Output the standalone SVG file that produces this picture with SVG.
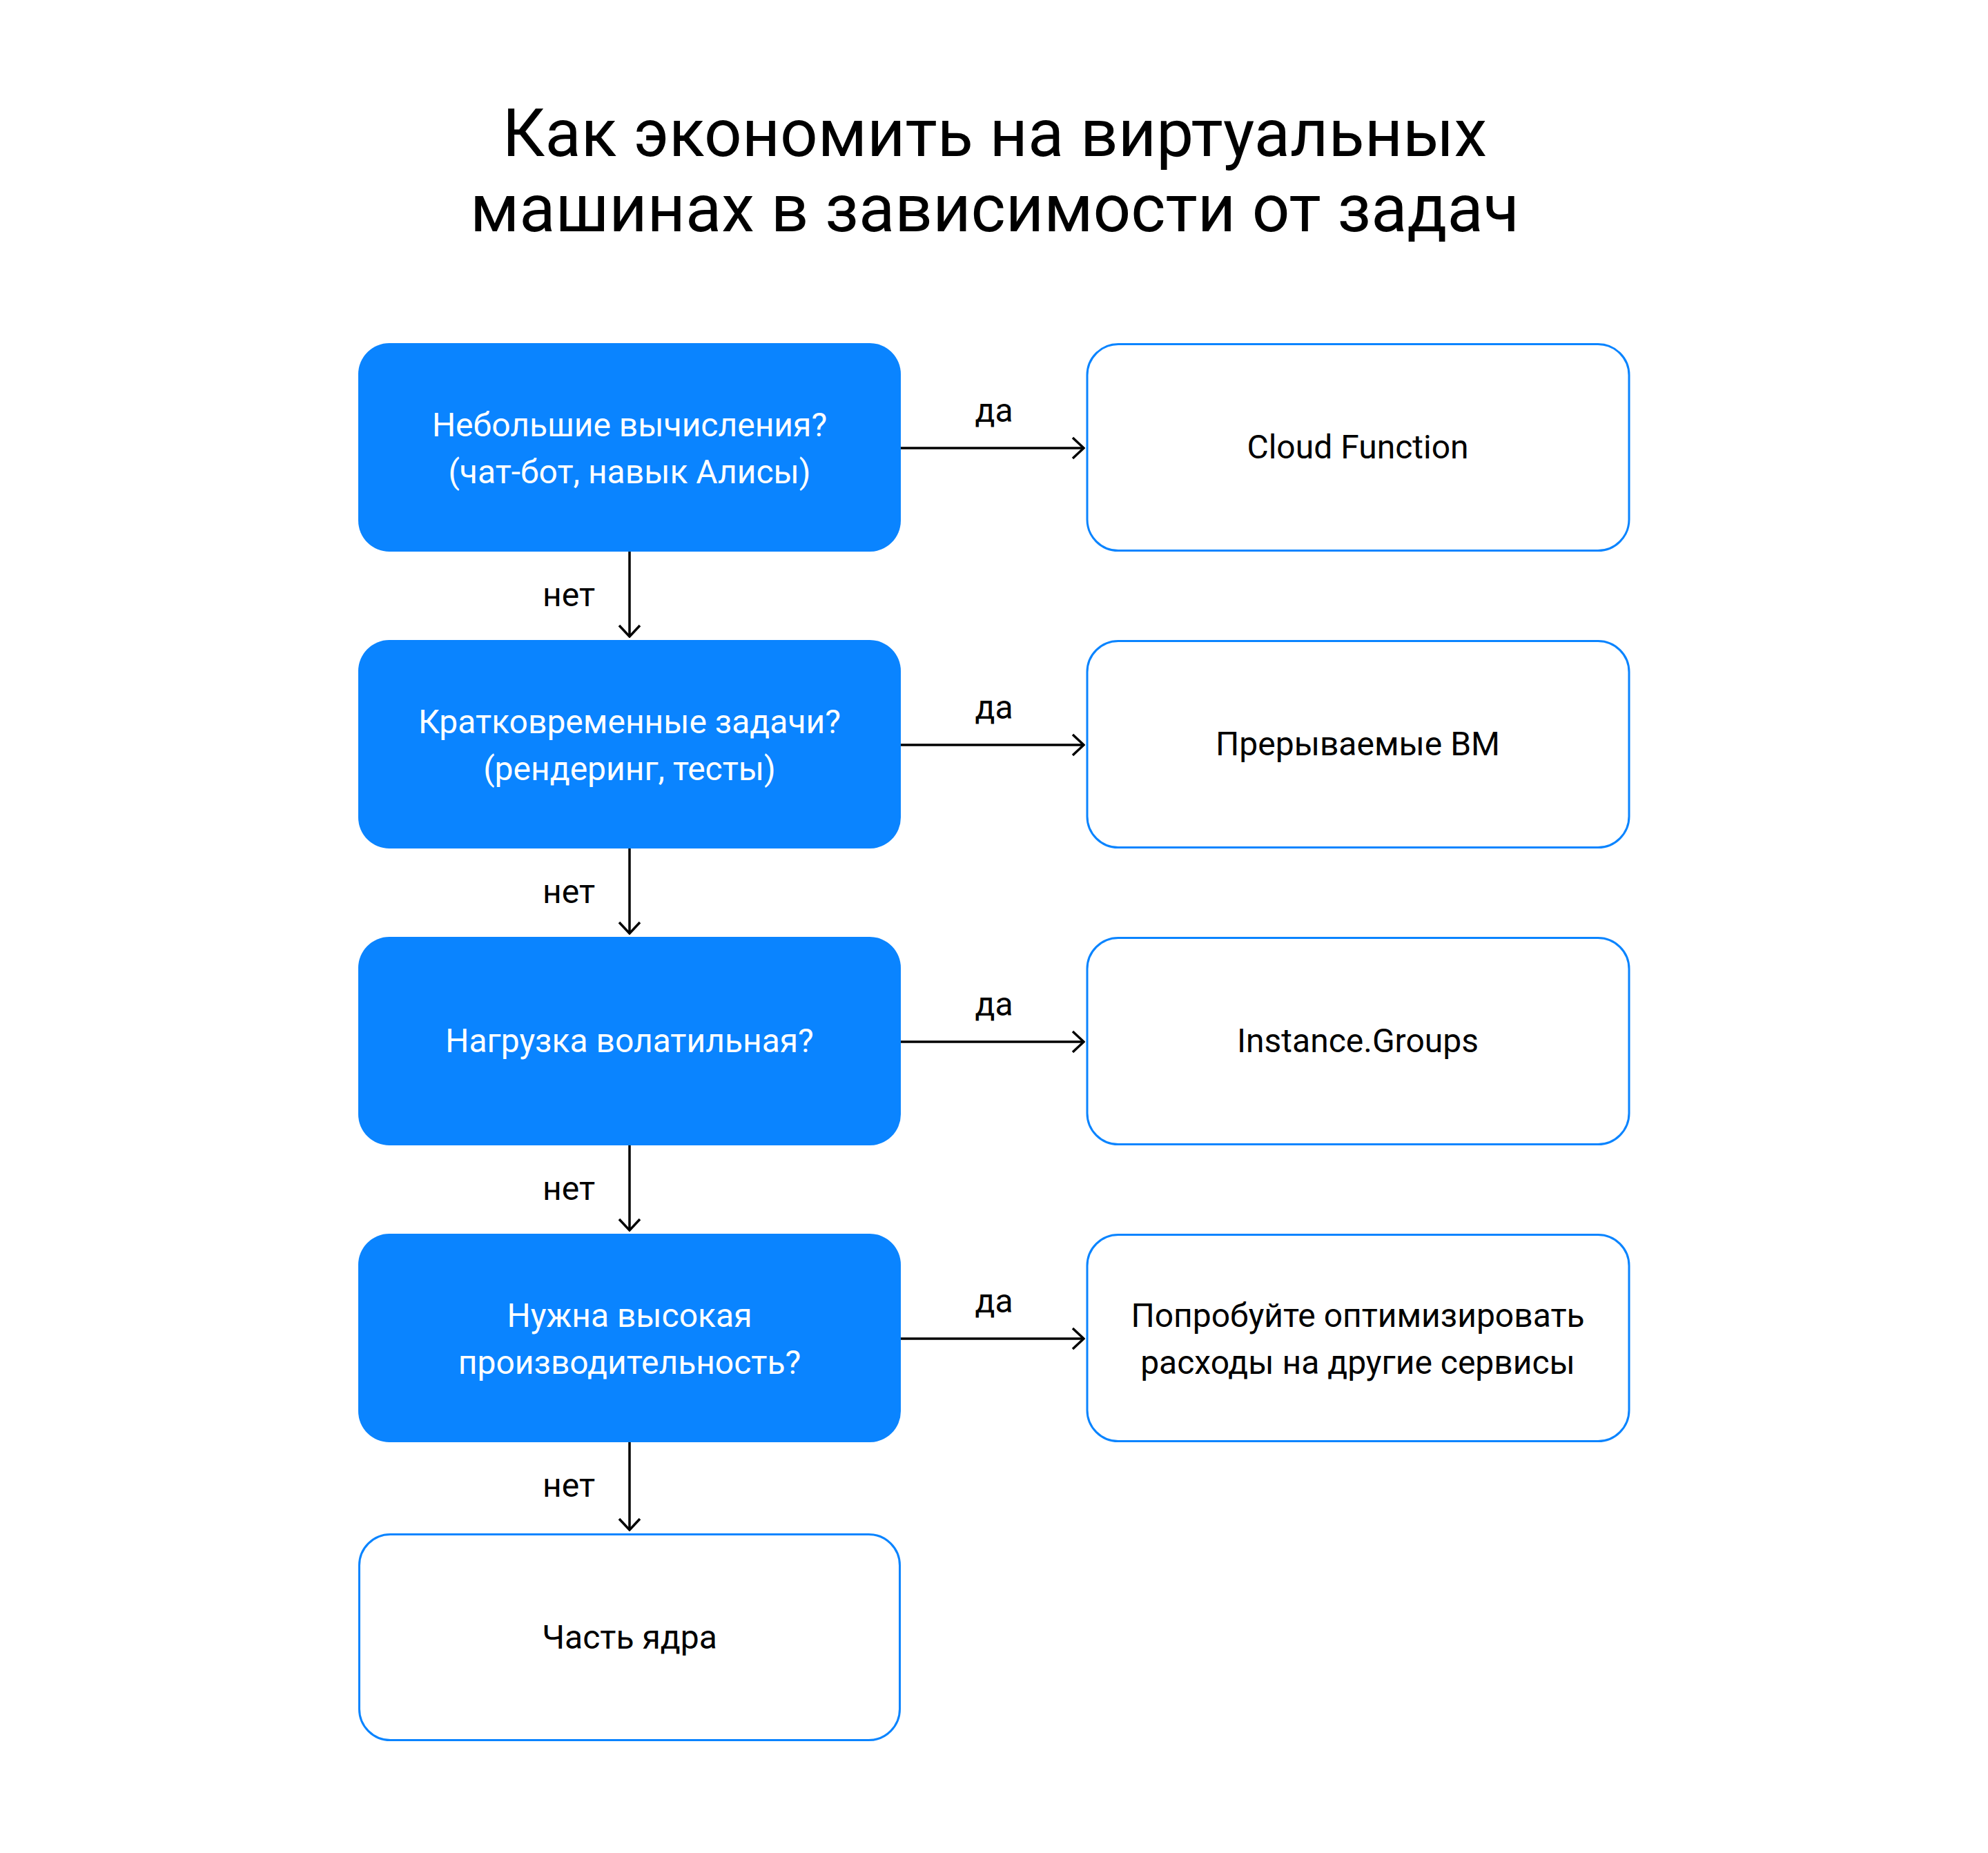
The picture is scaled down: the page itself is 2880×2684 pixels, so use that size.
<svg xmlns="http://www.w3.org/2000/svg" width="2880" height="2684" viewBox="0 0 2880 2684">
<defs>
<style>
.t{font-family:Roboto,"Liberation Sans",sans-serif;font-size:48px;text-anchor:middle}
.w{fill:#ffffff}
.k{fill:#000000}
.title{font-family:Roboto,"Liberation Sans",sans-serif;font-size:96px;text-anchor:middle;fill:#000}
.q{fill:#0A84FF}
.a{fill:#ffffff;stroke:#0A84FF;stroke-width:3}
.c{stroke:#000;stroke-width:3.5;fill:none}
</style>
<marker id="ah" viewBox="0 0 20 34" refX="18" refY="17" markerWidth="20" markerHeight="34" markerUnits="userSpaceOnUse" orient="auto">
<path d="M2 2 L18 17 L2 32" fill="none" stroke="#000" stroke-width="3.5"/>
</marker>
</defs>
<rect width="2880" height="2684" fill="#ffffff"/>
<g id="title">
<text class="title" x="1441" y="226">Как экономить на виртуальных</text>
<text class="title" x="1441" y="335">машинах в зависимости от задач</text>
</g>
<g id="connectors">
<line class="c" x1="1305" y1="649" x2="1570" y2="649" marker-end="url(#ah)"/>
<line class="c" x1="1305" y1="1079" x2="1570" y2="1079" marker-end="url(#ah)"/>
<line class="c" x1="1305" y1="1509" x2="1570" y2="1509" marker-end="url(#ah)"/>
<line class="c" x1="1305" y1="1939" x2="1570" y2="1939" marker-end="url(#ah)"/>
<line class="c" x1="912" y1="799" x2="912" y2="922" marker-end="url(#ah)"/>
<line class="c" x1="912" y1="1229" x2="912" y2="1352" marker-end="url(#ah)"/>
<line class="c" x1="912" y1="1659" x2="912" y2="1782" marker-end="url(#ah)"/>
<line class="c" x1="912" y1="2089" x2="912" y2="2216" marker-end="url(#ah)"/>
<text class="t k" x="1440" y="611">да</text>
<text class="t k" x="1440" y="1041">да</text>
<text class="t k" x="1440" y="1471">да</text>
<text class="t k" x="1440" y="1901">да</text>
<text class="t k" x="824" y="878">нет</text>
<text class="t k" x="824" y="1308">нет</text>
<text class="t k" x="824" y="1738">нет</text>
<text class="t k" x="824" y="2168">нет</text>
</g>
<g id="q1">
<rect class="q" x="519" y="497" width="786" height="302" rx="45"/>
<text class="t w" x="912" y="632">Небольшие вычисления?</text>
<text class="t w" x="912" y="700">(чат-бот, навык Алисы)</text>
</g>
<g id="q2">
<rect class="q" x="519" y="927" width="786" height="302" rx="45"/>
<text class="t w" x="912" y="1062">Кратковременные задачи?</text>
<text class="t w" x="912" y="1130">(рендеринг, тесты)</text>
</g>
<g id="q3">
<rect class="q" x="519" y="1357" width="786" height="302" rx="45"/>
<text class="t w" x="912" y="1524">Нагрузка волатильная?</text>
</g>
<g id="q4">
<rect class="q" x="519" y="1787" width="786" height="302" rx="45"/>
<text class="t w" x="912" y="1922">Нужна высокая</text>
<text class="t w" x="912" y="1990">производительность?</text>
</g>
<g id="r1">
<rect class="a" x="1575" y="498.5" width="785" height="299" rx="45"/>
<text class="t k" x="1967" y="664">Cloud Function</text>
</g>
<g id="r2">
<rect class="a" x="1575" y="928.5" width="785" height="299" rx="45"/>
<text class="t k" x="1967" y="1094">Прерываемые ВМ</text>
</g>
<g id="r3">
<rect class="a" x="1575" y="1358.5" width="785" height="299" rx="45"/>
<text class="t k" x="1967" y="1524">Instance.Groups</text>
</g>
<g id="r4">
<rect class="a" x="1575" y="1788.5" width="785" height="299" rx="45"/>
<text class="t k" x="1967" y="1922">Попробуйте оптимизировать</text>
<text class="t k" x="1967" y="1990">расходы на другие сервисы</text>
</g>
<g id="r5">
<rect class="a" x="520.5" y="2222.5" width="783" height="298" rx="45"/>
<text class="t k" x="912" y="2388">Часть ядра</text>
</g>
</svg>
